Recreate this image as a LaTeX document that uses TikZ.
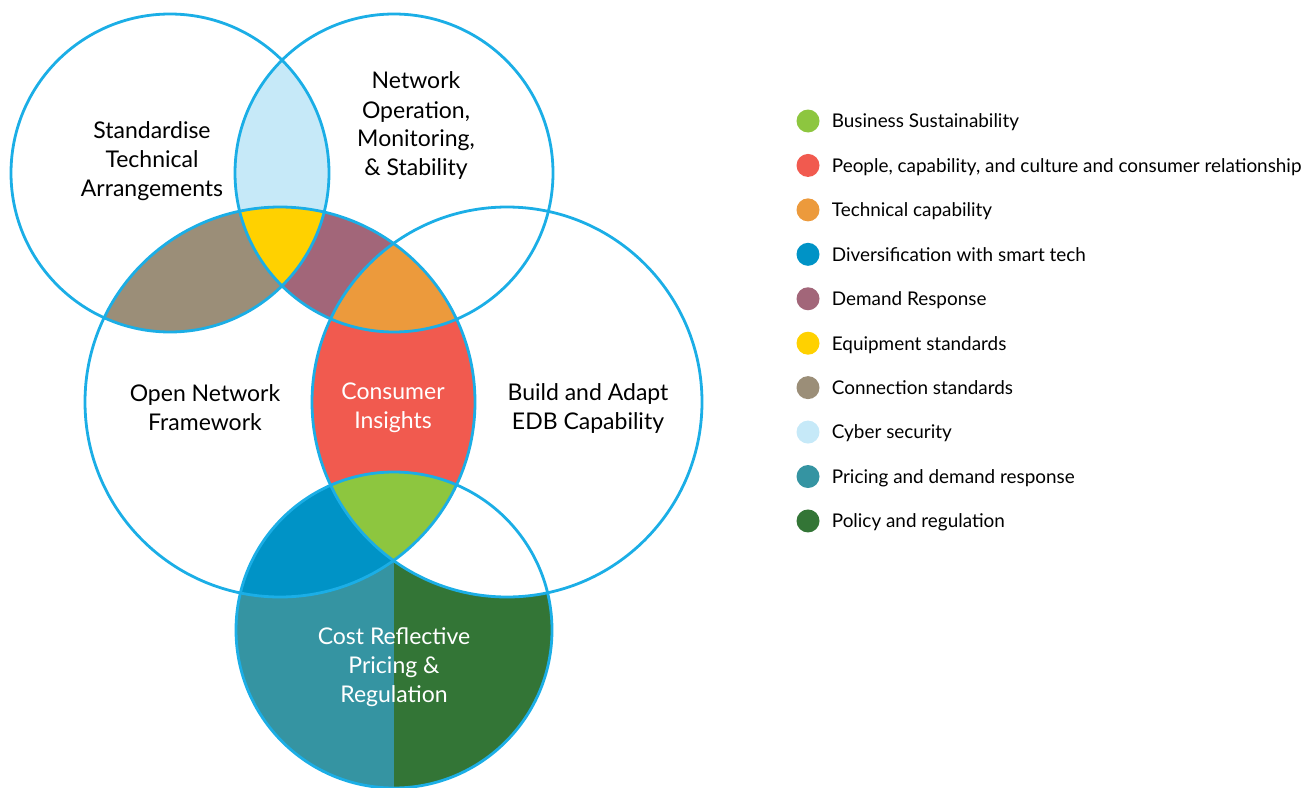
\documentclass[tikz,border=0pt]{standalone}
\usepackage{fontspec}
\setmainfont{Lato}
\usetikzlibrary{positioning}

\definecolor{ringBlue}{HTML}{1BAEE6}
\definecolor{bizGreen}{HTML}{8DC63F}
\definecolor{peopleRed}{HTML}{F15A4F}
\definecolor{techOrange}{HTML}{EC9A3C}
\definecolor{divBlue}{HTML}{0093C6}
\definecolor{demandMauve}{HTML}{A26679}
\definecolor{equipYellow}{HTML}{FFD100}
\definecolor{connTaupe}{HTML}{9B8E78}
\definecolor{cyberBlue}{HTML}{C6E9F8}
\definecolor{pricingTeal}{HTML}{3594A2}
\definecolor{policyGreen}{HTML}{337536}

\begin{document}
\begin{tikzpicture}[x=1pt,y=-1pt,node distance=44.44pt]
	%defines
	\tikzstyle{ring} = [draw=ringBlue, line width=2.8pt]
	\tikzstyle{ringLabel} = [align=center, inner sep=0pt, font=\fontsize{23}{29}\selectfont]
	\tikzstyle{legendDot} = [circle, minimum size=23pt, inner sep=0pt]
	\tikzstyle{legendText} = [inner sep=0pt, text height=13.6pt, text depth=0pt, font=\fontsize{18.9}{22}\selectfont]
	\useasboundingbox (0,0) rectangle (1316,787);
	%centres
	\coordinate (standardise) at (170,173);
	\coordinate (operation) at (394,173);
	\coordinate (openNet) at (280,402);
	\coordinate (buildEdb) at (507,402);
	\coordinate (pricing) at (394,630);
	%bottom circle halves
	\begin{scope}
		\clip (pricing) circle [radius=158];
		\fill[pricingTeal] (200,460) rectangle (394,800);
		\fill[policyGreen] (394,460) rectangle (600,800);
		\fill[divBlue] (openNet) circle [radius=195];
		\fill[white] (buildEdb) circle [radius=195];
	\end{scope}
	%consumer insights
	\begin{scope}
		\clip (openNet) circle [radius=195];
		\fill[peopleRed] (buildEdb) circle [radius=195];
		\clip (pricing) circle [radius=158];
		\fill[bizGreen] (buildEdb) circle [radius=195];
	\end{scope}
	%top overlaps
	\begin{scope}
		\clip (standardise) circle [radius=159];
		\fill[cyberBlue] (operation) circle [radius=159];
		\fill[connTaupe] (openNet) circle [radius=195];
	\end{scope}
	\begin{scope}
		\clip (operation) circle [radius=159];
		\fill[demandMauve] (openNet) circle [radius=195];
		\begin{scope}
			\clip (standardise) circle [radius=159];
			\fill[equipYellow] (openNet) circle [radius=195];
		\end{scope}
		\clip (openNet) circle [radius=195];
		\fill[techOrange] (buildEdb) circle [radius=195];
	\end{scope}
	%rings
	\draw [ring] (standardise) circle [radius=159];
	\draw [ring] (operation) circle [radius=159];
	\draw [ring] (openNet) circle [radius=195];
	\draw [ring] (buildEdb) circle [radius=195];
	\draw [ring] (pricing) circle [radius=158];
	%labels
	\node (standardiseText) [ringLabel] at (152,161) {Standardise\\Technical\\Arrangements};
	\node (operationText) [ringLabel] at (416,126) {Network\\Operation,\\Monitoring,\\\& Stability};
	\node (openNetText) [ringLabel] at (205,408) {Open Network\\Framework};
	\node (consumerText) [ringLabel, text=white] at (393,408) {Consumer\\Insights};
	\node (buildEdbText) [ringLabel] at (588,408) {Build and Adapt\\EDB Capability};
	\node (pricingText) [ringLabel, text=white] at (394,667) {Cost Reflective\\Pricing \&\\Regulation};
	%legend
	\node (dotBusiness) [legendDot, fill=bizGreen] at (808,121) {};
	\node (dotPeople) [legendDot, fill=peopleRed, below of=dotBusiness] {};
	\node (dotTech) [legendDot, fill=techOrange, below of=dotPeople] {};
	\node (dotDiv) [legendDot, fill=divBlue, below of=dotTech] {};
	\node (dotDemand) [legendDot, fill=demandMauve, below of=dotDiv] {};
	\node (dotEquip) [legendDot, fill=equipYellow, below of=dotDemand] {};
	\node (dotConn) [legendDot, fill=connTaupe, below of=dotEquip] {};
	\node (dotCyber) [legendDot, fill=cyberBlue, below of=dotConn] {};
	\node (dotPricing) [legendDot, fill=pricingTeal, below of=dotCyber] {};
	\node (dotPolicy) [legendDot, fill=policyGreen, below of=dotPricing] {};
	\node (txtBusiness) [legendText, right=12pt of dotBusiness] {Business Sustainability};
	\node (txtPeople) [legendText, right=12pt of dotPeople] {People, capability, and culture and consumer relationship};
	\node (txtTech) [legendText, right=12pt of dotTech] {Technical capability};
	\node (txtDiv) [legendText, right=12pt of dotDiv] {Diversification with smart tech};
	\node (txtDemand) [legendText, right=12pt of dotDemand] {Demand Response};
	\node (txtEquip) [legendText, right=12pt of dotEquip] {Equipment standards};
	\node (txtConn) [legendText, right=12pt of dotConn] {Connection standards};
	\node (txtCyber) [legendText, right=12pt of dotCyber] {Cyber security};
	\node (txtPricing) [legendText, right=12pt of dotPricing] {Pricing and demand response};
	\node (txtPolicy) [legendText, right=12pt of dotPolicy] {Policy and regulation};
\end{tikzpicture}
\end{document}
